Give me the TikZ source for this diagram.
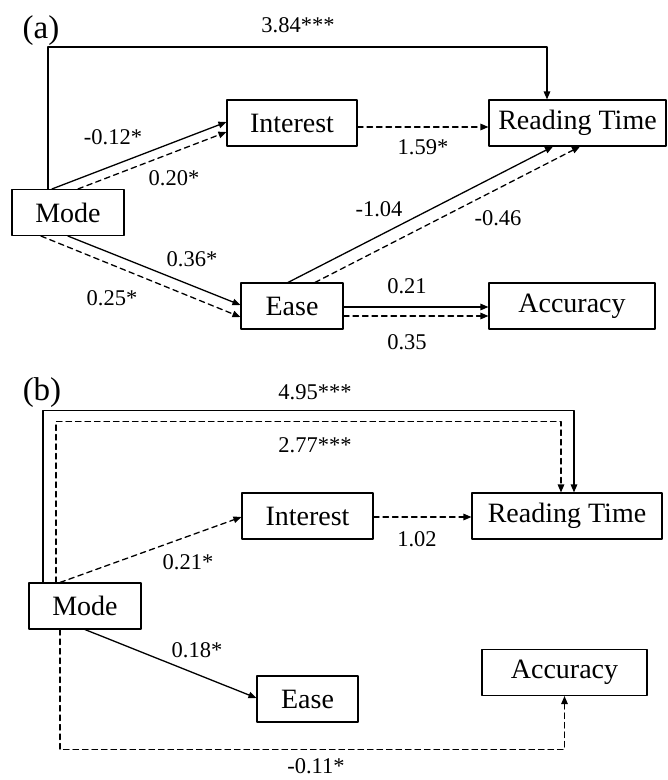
\documentclass[tikz,border=0pt]{standalone}
\usepackage{fontspec}
\setmainfont{Liberation Serif}
\usetikzlibrary{arrows.meta, calc}

\begin{document}
\begin{tikzpicture}[x=1pt, y=-1pt, line cap=round, line join=round, >={Triangle[length=8pt,width=6.5pt]},
    var/.style={draw, line width=1.1pt, inner sep=0pt, minimum height=46pt, font=\fontsize{28}{30}\selectfont},
    coef/.style={inner sep=0pt, font=\fontsize{22.5}{24}\selectfont},
    panel/.style={inner sep=0pt, font=\fontsize{33}{36}\selectfont},
    solidarr/.style={->, line width=1.3pt},
    dasharr/.style={->, line width=1.3pt, dash pattern=on 5.5pt off 4pt}]
    \useasboundingbox (0,0) rectangle (668,780);

    	\node[panel] (pa) at (41,31) {(a)};
    	\node[var, minimum width=112pt] (modeA) at (68,212.5) {Mode};
    	\node[var, minimum width=130pt] (intA) at (292,123) {Interest};
    	\node[var, minimum width=177pt] (rtA) at (577.5,123) {Reading Time};
    	\node[var, minimum width=102pt] (easeA) at (292,306) {Ease};
    	\node[var, minimum width=166pt] (accA) at (572,306) {Accuracy};

		\draw [solidarr] ([xshift=-20pt]modeA.north) -- ++(0,-142) -| ([xshift=-30.5pt]rtA.north);
		\draw [solidarr] ([xshift=-16pt]modeA.north) -- ([yshift=1pt]intA.west);
		\draw [dasharr] ([xshift=10pt]modeA.north) -- ([yshift=-9pt]intA.west);
		\draw [dasharr] ([yshift=-4pt]intA.east) -- ([yshift=-4pt]rtA.west);
		\draw [solidarr] (modeA.south) -- ([yshift=1pt]easeA.west);
		\draw [dasharr] ([xshift=-27pt]modeA.south) -- ([yshift=-11pt]easeA.west);
		\draw [solidarr] ([xshift=-4pt]easeA.north) -- ([xshift=-24.5pt]rtA.south);
		\draw [dasharr] ([xshift=23pt]easeA.north) -- ([xshift=2.5pt]rtA.south);
		\draw [solidarr] ([yshift=-1pt]easeA.east) -- ([yshift=-1pt]accA.west);
		\draw [dasharr] ([yshift=-10pt]easeA.east) -- ([yshift=-10pt]accA.west);

    	\node[coef] (cA1) at (298,25) {3.84***};
    	\node[coef] (cA2) at (113,137) {-0.12*};
    	\node[coef] (cA3) at (174,178) {0.20*};
    	\node[coef] (cA4) at (423,147) {1.59*};
    	\node[coef] (cA5) at (379,209) {-1.04};
    	\node[coef] (cA6) at (498,218) {-0.46};
    	\node[coef] (cA7) at (192,259) {0.36*};
    	\node[coef] (cA8) at (112,298) {0.25*};
    	\node[coef] (cA9) at (407,286) {0.21};
    	\node[coef] (cA10) at (407,342) {0.35};

    	\node[panel] (pb) at (42,393) {(b)};
    	\node[var, minimum width=112pt] (modeB) at (85,606) {Mode};
    	\node[var, minimum width=131pt] (intB) at (307.5,516) {Interest};
    	\node[var, minimum width=190pt] (rtB) at (567,516) {Reading Time};
    	\node[var, minimum width=101pt] (easeB) at (307.5,699) {Ease};
    	\node[var, minimum width=165pt] (accB) at (564.5,672.5) {Accuracy};

		\draw [solidarr] ([xshift=-42pt]modeB.north) -- ++(0,-172) -| ([xshift=7pt]rtB.north);
		\draw [dasharr] ([xshift=-29pt]modeB.north) -- ++(0,-161) -| ([xshift=-6pt]rtB.north);
		\draw [dasharr] ([xshift=-25pt]modeB.north) -- ([yshift=-1pt]intB.west);
		\draw [dasharr] ([yshift=-1pt]intB.east) -- ([yshift=-1pt]rtB.west);
		\draw [solidarr] (modeB.south) -- ([yshift=1pt]easeB.west);
		\draw [dasharr] ([xshift=-25pt]modeB.south) -- ++(0,120) -| (accB.south);

    	\node[coef] (cB1) at (315,392) {4.95***};
    	\node[coef] (cB2) at (315,445) {2.77***};
    	\node[coef] (cB3) at (188,562) {0.21*};
    	\node[coef] (cB4) at (417,539) {1.02};
    	\node[coef] (cB5) at (197,650) {0.18*};
    	\node[coef] (cB6) at (316,766) {-0.11*};
    \end{tikzpicture}
\end{document}
